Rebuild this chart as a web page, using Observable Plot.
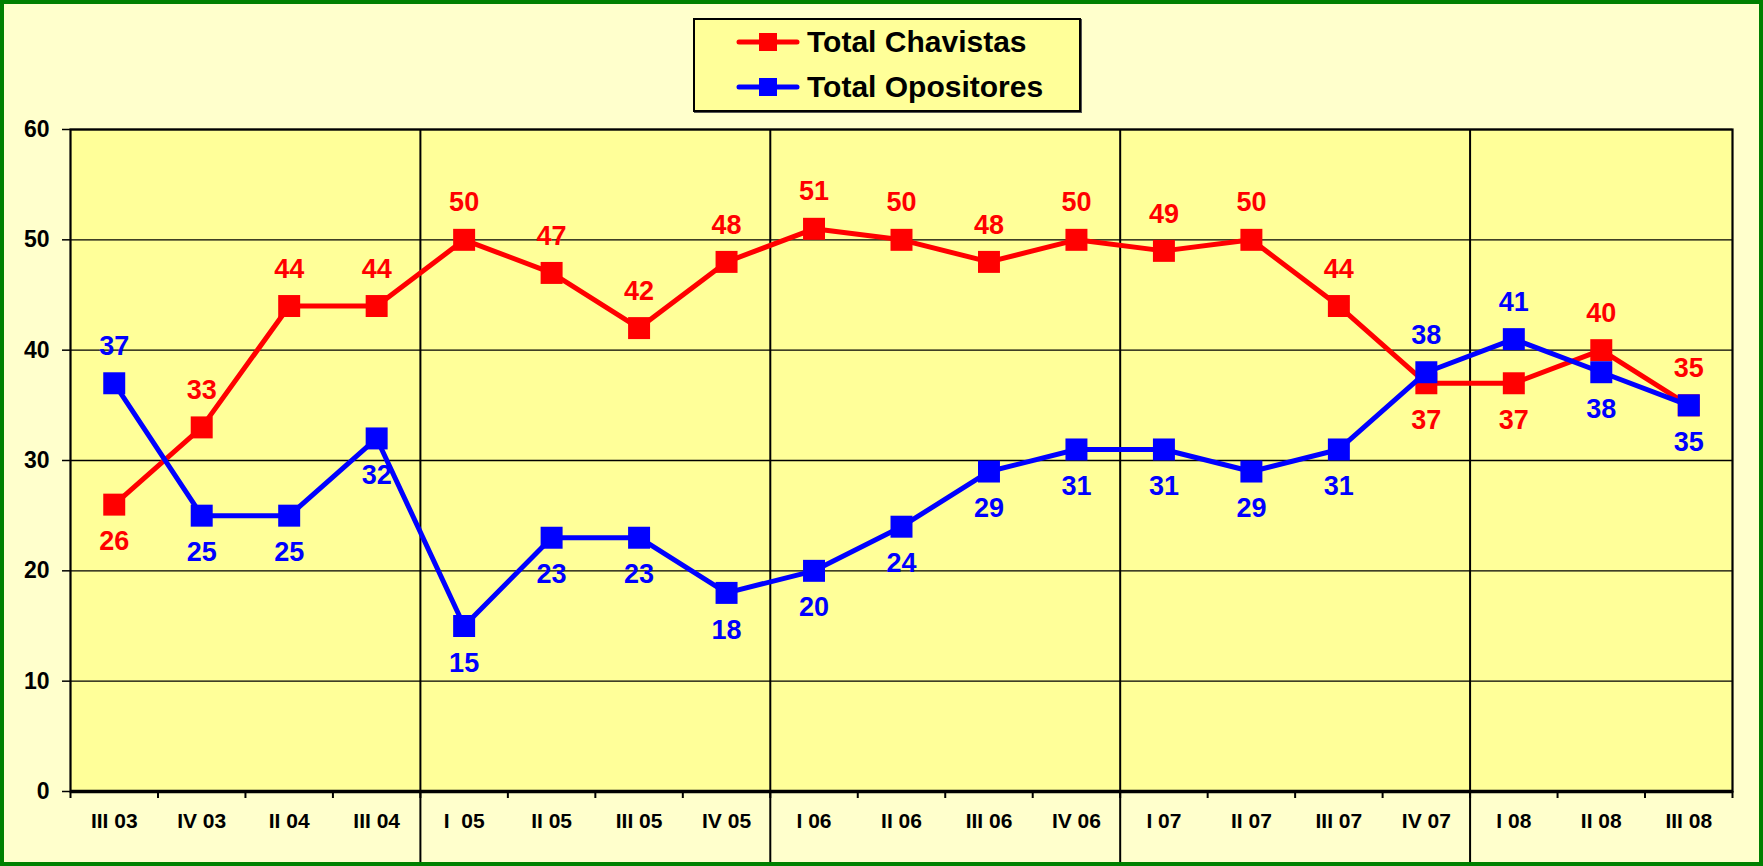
<!DOCTYPE html>
<html><head><meta charset="utf-8">
<script src="https://cdn.jsdelivr.net/npm/d3@7"></script>
<script src="https://cdn.jsdelivr.net/npm/@observablehq/plot@0.6"></script>
<style>
body{margin:0;background:#FFFFCC;}
#wrap{position:relative;width:1763px;height:866px;overflow:hidden;background:#FFFFCC;}
#border{position:absolute;left:0;top:0;width:1763px;height:866px;box-sizing:border-box;border:4px solid #008000;pointer-events:none;}
#legend{position:absolute;left:693px;top:18px;width:388px;height:94px;box-sizing:border-box;background:#FFFF99;border:2px solid #000;box-shadow:1px 1px 0 #555;font:bold 30px Arial,'Liberation Sans',sans-serif;color:#000;}
.row{position:absolute;left:41px;height:40px;display:flex;align-items:center;white-space:nowrap;}
.row svg{margin-right:7px;}
svg text{white-space:pre;}
</style></head><body>
<div id="wrap"><div id="chart"></div><div id="legend"></div><div id="border"></div></div>
<script>
// ---- data ----
const quarters = ["III 03","IV 03","II 04","III 04","I  05","II 05","III 05","IV 05","I 06","II 06","III 06","IV 06","I 07","II 07","III 07","IV 07","I 08","II 08","III 08"];
const chavistas = [26,33,44,44,50,47,42,48,51,50,48,50,49,50,44,37,37,40,35];
const opositores = [37,25,25,32,15,23,23,18,20,24,29,31,31,29,31,38,41,38,35];
const seriesNames = ["Total Chavistas","Total Opositores"];
const seriesColors = ["#FF0000","#0000FF"];
const yTicks = [0,10,20,30,40,50,60];

// ---- derived tables ----
const rows = quarters.flatMap((q,i)=>[
  {q,i,series:seriesNames[0],v:chavistas[i],above:chavistas[i]>=opositores[i]},
  {q,i,series:seriesNames[1],v:opositores[i],above:opositores[i]>chavistas[i]}
]);
const n = quarters.length;
const boundaries = d3.range(n+1).map(k=>k-0.5);
const separators = quarters.map((q,i)=>q.split(/\s+/)[0]==="I" && i>0 ? i-0.5 : null).filter(d=>d!==null);

const W=1763,H=866,ML=70,MR=31,MT=129,MB=75;
const font = "Arial, 'Liberation Sans', sans-serif";

const seriesMarks = seriesNames.flatMap((s,k)=>{
  const data = rows.filter(d=>d.series===s);
  return [
    Plot.line(data,{x:"i",y:"v",stroke:seriesColors[k],strokeWidth:5}),
    Plot.dot(data,{x:"i",y:"v",fill:seriesColors[k],symbol:"square",r:12.4,stroke:"none"})
  ];
});

const colorOf = d=>seriesColors[seriesNames.indexOf(d.series)];
const textMarks = [
  Plot.text(rows.filter(d=>d.above),{x:"i",y:"v",text:d=>String(d.v),fill:colorOf,dy:-37,fontSize:27,fontWeight:"bold"}),
  Plot.text(rows.filter(d=>!d.above),{x:"i",y:"v",text:d=>String(d.v),fill:colorOf,dy:37,fontSize:27,fontWeight:"bold"})
];

const chart = Plot.plot({
  width:W,height:H,marginLeft:ML,marginRight:MR,marginTop:MT,marginBottom:MB,
  style:{background:"transparent",fontFamily:font,overflow:"visible",color:"#000"},
  x:{type:"linear",domain:[-0.5,n-0.5]},
  y:{type:"linear",domain:[0,60]},
  marks:[
    Plot.frame({fill:"#FFFF99",stroke:"none"}),
    Plot.ruleY(yTicks,{stroke:"black",strokeWidth:1.3}),
    Plot.ruleX(separators,{stroke:"black",strokeWidth:2,insetBottom:-MB}),
    Plot.frame({stroke:"black",strokeWidth:2.2}),
    Plot.ruleY([0],{stroke:"black",strokeWidth:3.5}),
    Plot.axisY({ticks:yTicks,tickSize:8,tickPadding:13,tickFormat:d=>String(d),fontSize:23,fontWeight:"bold",strokeWidth:1.5,label:null}),
    Plot.axisX({ticks:boundaries,tickSize:7,tickFormat:()=>"",strokeWidth:2,label:null}),
    Plot.axisX({ticks:d3.range(n),tickSize:0,tickPadding:22,tickFormat:i=>quarters[i],fontSize:21,fontWeight:"bold",label:null}),
    ...seriesMarks,
    ...textMarks
  ]
});
document.getElementById("chart").appendChild(chart);

// legend
const legend = document.getElementById("legend");
seriesNames.forEach((s,k)=>{
  const row = document.createElement("div");
  row.className="row";
  row.style.top = (k===0 ? 2 : 47)+"px";
  row.innerHTML = `<svg width="64" height="24"><line x1="3" y1="12" x2="61" y2="12" stroke="${seriesColors[k]}" stroke-width="5" stroke-linecap="round"/><rect x="23" y="3" width="18" height="18" fill="${seriesColors[k]}"/></svg><span>${s}</span>`;
  legend.appendChild(row);
});
</script>
</body></html>
